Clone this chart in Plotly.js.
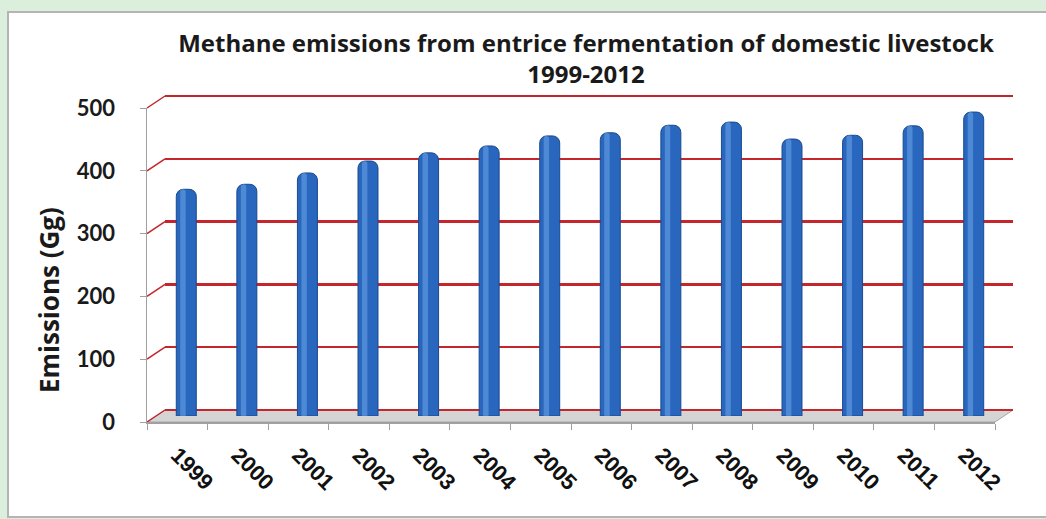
<!DOCTYPE html>
<html>
<head>
<meta charset="utf-8">
<script src="https://cdn.plot.ly/plotly-3.0.1.min.js"></script>
<style>html,body{margin:0;padding:0;background:#dcefdc;}#chart{width:1046px;height:519px;}</style>
</head>
<body>
<div id="chart"></div>
<script>
// ---- data ----
const years = ['1999','2000','2001','2002','2003','2004','2005','2006','2007','2008','2009','2010','2011','2012'];
const emissions = [361, 369, 387, 406, 419, 430, 446, 451, 463, 468, 441, 447, 462, 484];
const yTicks = [0, 100, 200, 300, 400, 500];
const chartTitle = 'Methane emissions from entrice fermentation of domestic livestock<br>1999-2012';
const yTitle = 'Emissions (Gg)';

// ---- geometry (pixels) ----
const W = 1046, H = 519;
const fx = p => p / W;
const fy = p => 1 - p / H;
const back  = {x0: 165, x1: 1013, yTop: 96,  yBot: 410};
const depth = {dx: -18, dy: 12};
const mid   = {x0: back.x0 + depth.dx/2, x1: back.x1 + depth.dx/2, yTop: back.yTop + depth.dy/2, yBot: back.yBot + depth.dy/2};
const front = {x0: back.x0 + depth.dx,   x1: back.x1 + depth.dx,   yTop: back.yTop + depth.dy,   yBot: back.yBot + depth.dy};
const yMax = 500;
const pxPerUnit = (back.yBot - back.yTop) / yMax;
const pad = 4; // keep end gridlines inside the range
const catRange = [-0.5, years.length - 0.5];

const red = '#c4262c';
const shapes = [];
// white panel
shapes.push({type:'rect', xref:'paper', yref:'paper', x0:fx(8), x1:fx(1060), y0:fy(517), y1:fy(12),
  fillcolor:'#ffffff', line:{color:'#b4b4b4', width:2}, layer:'below'});
// floor
const fl = `M ${fx(front.x0)} ${fy(front.yBot)} L ${fx(front.x1)} ${fy(front.yBot)} L ${fx(back.x1)} ${fy(back.yBot)} L ${fx(back.x0)} ${fy(back.yBot)} Z`;
shapes.push({type:'path', xref:'paper', yref:'paper', path: fl, fillcolor:'#d4d4d4', line:{color:'#a6a6a6', width:1}, layer:'below'});
// side wall diagonals
yTicks.forEach(v => {
  const yf = front.yBot - (front.yBot - front.yTop) * v / yMax;
  const yb = back.yBot - (back.yBot - back.yTop) * v / yMax;
  shapes.push({type:'line', xref:'paper', yref:'paper', x0:fx(front.x0), y0:fy(yf), x1:fx(back.x0), y1:fy(yb),
    line:{color:red, width:1.5}, layer:'below'});
});

const traces = [
  // back wall (gridlines)
  {type:'scatter', x:years, y:emissions, xaxis:'x', yaxis:'y', mode:'markers', marker:{opacity:0}, hoverinfo:'skip', showlegend:false},
  // cylinders at mid depth
  {type:'bar', x:years, y:emissions, xaxis:'x2', yaxis:'y2', width:0.33,
   marker:{color:'#2966bd', line:{color:'#1a4a8e', width:1}, cornerradius:7}, hoverinfo:'x+y', showlegend:false},
  {type:'bar', x:years, y:emissions, xaxis:'x2', yaxis:'y2', width:0.09, offset:-0.1,
   marker:{color:'rgba(110,165,235,0.55)', line:{width:0}, cornerradius:3}, hoverinfo:'skip', showlegend:false},
  // front axes (labels)
  {type:'scatter', x:years, y:emissions, xaxis:'x3', yaxis:'y3', mode:'markers', marker:{opacity:0}, hoverinfo:'skip', showlegend:false}
];

const hiddenX = {type:'category', range:catRange, showgrid:false, zeroline:false, showline:false, showticklabels:false, ticks:''};
const layout = {
  width: W, height: H,
  margin: {l:0, r:0, t:0, b:0},
  paper_bgcolor: '#dcefdc',
  plot_bgcolor: 'rgba(0,0,0,0)',
  barmode: 'overlay',
  showlegend: false,
  title: {text: chartTitle, font:{family:'Open Sans', size:24, weight:'bold', color:'#1a1a1a'},
          x: fx(586), xanchor:'center', xref:'paper', y: fy(52), yanchor:'top', yref:'paper'},
  xaxis:  Object.assign({}, hiddenX, {domain:[fx(back.x0), fx(back.x1)], anchor:'y'}),
  yaxis:  {domain:[fy(back.yBot + pad*pxPerUnit), fy(back.yTop - pad*pxPerUnit)], anchor:'x', range:[-pad, yMax + pad], tickvals:yTicks,
           showgrid:true, gridcolor:red, gridwidth:2.5, zeroline:false, showline:false, showticklabels:false, ticks:''},
  xaxis2: Object.assign({}, hiddenX, {domain:[fx(mid.x0), fx(mid.x1)], anchor:'y2'}),
  yaxis2: {domain:[fy(mid.yBot), fy(mid.yTop)], anchor:'x2', range:[0, yMax], showgrid:false, zeroline:false,
           showline:false, showticklabels:false, ticks:''},
  xaxis3: {type:'category', range:catRange, domain:[fx(front.x0), fx(front.x1)], anchor:'y3',
           showgrid:false, zeroline:false, showline:true, linecolor:'#a0a0a0', linewidth:1.5,
           ticks:'outside', tickson:'boundaries', ticklen:6, tickcolor:'#a0a0a0', tickangle:45,
           ticklabelstandoff:10,
           tickfont:{family:'Liberation Sans', size:22, weight:'bold', color:'#111'}},
  yaxis3: {domain:[fy(front.yBot), fy(front.yTop)], anchor:'x3', range:[0, yMax], tickvals:yTicks,
           showgrid:false, zeroline:false, showline:true, linecolor:'#a0a0a0', linewidth:1.5,
           ticks:'outside', ticklen:6, tickcolor:'#a0a0a0', ticklabelstandoff:20,
           tickfont:{family:'Lato', size:22, weight:'bold', color:'#1a1a1a'}},
  annotations: [{text: yTitle, textangle:-90, xref:'paper', yref:'paper', x: fx(49), y: fy(300),
                 xanchor:'center', yanchor:'middle', showarrow:false,
                 font:{family:'Open Sans', size:26, weight:'bold', color:'#1a1a1a'}}],
  shapes: shapes
};

Plotly.newPlot('chart', traces, layout, {displayModeBar:false, staticPlot:true});
</script>
</body>
</html>
